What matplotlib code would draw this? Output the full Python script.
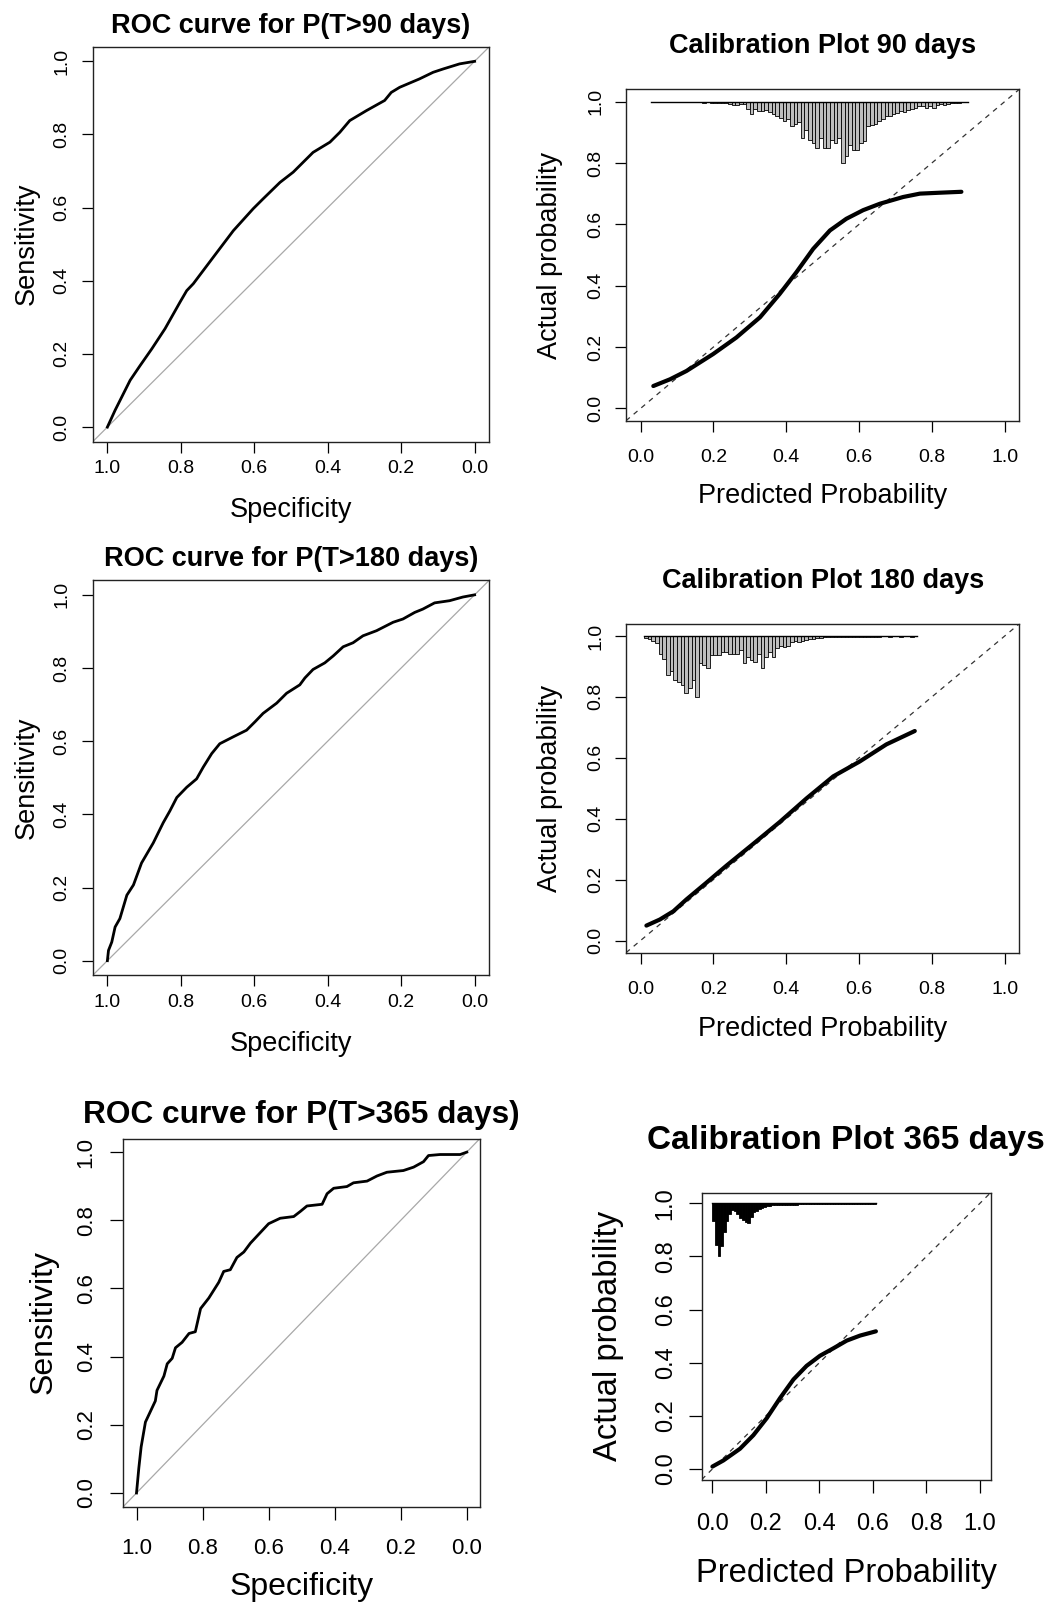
import matplotlib
matplotlib.use('Agg')
import matplotlib.pyplot as plt
import numpy as np

plt.rcParams['font.family'] = ['Liberation Sans', 'DejaVu Sans']

# ---------------- data ----------------
roc90_spec = [1.0, .979, .938, .911, .879, .843, .802, .784, .766, .712, .657, .603, .576, .530,
              .494, .440, .394, .367, .340, .295, .245, .227, .204, .150, .113, .086, .041, 0.0]
roc90_sens = [0.0, .046, .128, .168, .214, .269, .342, .373, .392, .464, .537, .597, .624, .669,
              .697, .751, .779, .806, .838, .865, .893, .915, .929, .952, .970, .979, .993, 1.0]

roc180_spec = [1.0, .997, .988, .979, .966, .947, .929, .907, .875, .848, .830, .811, .784, .757,
               .739, .716, .694, .657, .621, .598, .576, .539, .512, .476, .462, .440, .408, .385,
               .358, .331, .304, .267, .222, .195, .163, .141, .109, .068, .032, 0.0]
roc180_sens = [0.0, .028, .051, .092, .115, .179, .207, .267, .322, .377, .409, .446, .474, .497,
               .529, .566, .593, .612, .630, .653, .676, .704, .731, .754, .773, .796, .814, .833,
               .858, .869, .888, .902, .925, .934, .952, .961, .978, .984, .994, 1.0]

roc365_spec = [1.0, .993, .986, .973, .958, .943, .938, .917, .907, .892, .882, .862, .841, .822,
               .806, .781, .751, .736, .716, .696, .675, .655, .630, .600, .565, .524, .504, .484,
               .438, .423, .403, .363, .343, .302, .272, .242, .192, .161, .131, .116, .081, .020, 0.0]
roc365_sens = [0.0, .073, .135, .208, .239, .270, .301, .343, .379, .395, .426, .442, .468, .473,
               .541, .572, .618, .650, .655, .691, .707, .733, .759, .790, .806, .811, .826, .842,
               .847, .878, .894, .899, .910, .915, .930, .941, .946, .956, .972, .990, .993, .993, 1.0]

cal90_pred = [.035, .081, .126, .199, .263, .328, .382, .428, .474, .520, .565, .611, .657, .721, .767, .822, .881]
cal90_act = [.073, .095, .122, .177, .231, .297, .373, .444, .520, .580, .618, .646, .667, .689, .700, .703, .706]

cal180_pred = [.016, .053, .090, .126, .181, .236, .309, .382, .456, .529, .602, .675, .753]
cal180_act = [.049, .069, .096, .135, .190, .246, .317, .389, .467, .539, .588, .644, .688]

cal365_pred = [0.0, .041, .103, .153, .203, .253, .303, .352, .402, .452, .502, .552, .611]
cal365_act = [.009, .032, .076, .127, .191, .267, .337, .388, .426, .454, .483, .502, .518]

# relative frequency of predicted risk (fraction of the tallest bin), bins of 0.01
hist90_start = 0.03
hist90_freq = [0.005, 0.005, 0.003, 0.005, 0.005, 0.005, 0.003, 0.008, 0.005, 0.008, 0.01, 0.015,
               0.01, 0.012, 0.02, 0.012, 0.018, 0.02, 0.03, 0.02, 0.03, 0.035, 0.055, 0.05,
               .04, .04, .12, .20, .12, .15, .15, .13, .17, .20, .23, .27, .31, .28, .39, .36, .34,
               .60, .47, .63, .68, .76, .60, .76, .76, .63, .68, .60, 1.0, .89, .71, .79, .79, .68,
               .65, .39, .38, .36, .31, .29, .24, .23, .20, .18, .15, .17, .13, .12, .10, .07, .08,
               .11, .07, .10, .06, .04, .05, .04, .03, .03, .02, .01, .01]

hist180_start = 0.01
hist180_freq = [.03, .05, .09, .12, .29, .37, .64, .58, .72, .75, .80, .94, .85, .72, 1.0, .45, .48,
                .52, .31, .31, .31, .27, .27, .30, .30, .30, .23, .45, .34, .40, .42, .29, .53, .34,
                .26, .34, .20, .16, .18, .16, .10, .08, .10, .09, .07, .05, .05, .04, .03, .02, .02,
                .01, .015, .01, .02, .01, .02, .015, .01, .02, .015, .02, .02, .01, .015, .005, .005,
                .01, .005, .005, .01, .005, .005, .01, .005]

hist365_start = 0.0
hist365_freq = [.33, .78, 1.0, .81, .55, .33, .20, .12, .14, .20, .27, .32, .36, .38, .25, .17, .14,
                .11, .09, .07, .06, .05, .04, .04, .04, .035, .03, .03, .03, .03, .025, .025, .02,
                .02, .02, .02, .02, .02, .02, .015, .015, .015, .015, .015, .015, .01, .01, .01, .01,
                .01, .01, .01, .01, .01, .01, .01, .01, .01, .01, .01, .01]

tick_vals = [0.0, 0.2, 0.4, 0.6, 0.8, 1.0]
tick_labels = ['0.0', '0.2', '0.4', '0.6', '0.8', '1.0']

# ---------------- layout helpers ----------------
W, H = 1047, 1605
fig = plt.figure(figsize=(W / 100, H / 100), dpi=100)
PX2PT = 0.72


def box(l, t, r, b):
    return [l / W, 1 - b / H, (r - l) / W, (b - t) / H]


def ftext(x, y, s, **kw):
    fig.text(x / W, 1 - y / H, s, **kw)


def style(ax, reverse_x, tick_fs, ticklen_px, xlab_dist_px, ylab_dist_px):
    lo, hi = -0.04, 1.04
    if reverse_x:
        ax.set_xlim(hi, lo)
    else:
        ax.set_xlim(lo, hi)
    ax.set_ylim(lo, hi)
    ax.set_xticks(tick_vals)
    ax.set_xticklabels(tick_labels)
    ax.set_yticks(tick_vals)
    ax.set_yticklabels(tick_labels)
    tl = ticklen_px * PX2PT
    ax.tick_params(axis='both', direction='out', length=tl, width=0.9, color='black',
                   labelsize=tick_fs)
    ax.tick_params(axis='x', pad=xlab_dist_px * PX2PT - tl)
    ax.tick_params(axis='y', pad=ylab_dist_px * PX2PT - tl)
    for lab in ax.get_xticklabels():
        lab.set_va('baseline')
    for lab in ax.get_yticklabels():
        lab.set_rotation(90)
        lab.set_rotation_mode('anchor')
        lab.set_ha('center')
        lab.set_va('baseline')
    for sp in ax.spines.values():
        sp.set_linewidth(1.0)
        sp.set_color('#222222')


def roc_panel(rect, spec, sens, title, centers, fs):
    ax = fig.add_axes(box(*rect))
    ax.plot([1.04, -0.04], [-0.04, 1.04], color='#a8a8a8', lw=0.9)
    ax.plot(spec, sens, color='black', lw=2.0, solid_joinstyle='round')
    style(ax, True, fs['tick'], fs['tl'], fs['xd'], fs['yd'])
    (tx, ty), (xx, xy), (yx, yy) = centers
    ftext(tx, ty, title, ha='center', va='baseline', fontsize=fs['title'], fontweight='bold')
    ftext(xx, xy, 'Specificity', ha='center', va='baseline', fontsize=fs['lab'])
    ftext(yx, yy, 'Sensitivity', ha='center', va='baseline', fontsize=fs['lab'],
          rotation=90, rotation_mode='anchor')
    return ax


def cal_panel(rect, pred, act, hstart, hfreq, hcolor, title, centers, fs):
    ax = fig.add_axes(box(*rect))
    ax.plot([-0.04, 1.04], [-0.04, 1.04], color='#333333', lw=0.9, ls=(0, (4, 4)))
    n = len(hfreq)
    lefts = hstart + 0.01 * np.arange(n)
    depth = 0.2 * np.asarray(hfreq)
    ax.bar(lefts, -depth, width=0.01, bottom=1.0, align='edge', color=hcolor,
           edgecolor='black', linewidth=0.6)
    ax.plot([lefts[0], lefts[-1] + 0.01], [1.0, 1.0], color='black', lw=1.0)
    ax.plot(pred, act, color='black', lw=3.0, solid_capstyle='round', solid_joinstyle='round')
    style(ax, False, fs['tick'], fs['tl'], fs['xd'], fs['yd'])
    (tx, ty), (xx, xy), (yx, yy) = centers
    ftext(tx, ty, title, ha='center', va='baseline', fontsize=fs['title'], fontweight='bold')
    ftext(xx, xy, 'Predicted Probability', ha='center', va='baseline', fontsize=fs['lab'])
    ftext(yx, yy, 'Actual probability', ha='center', va='baseline', fontsize=fs['lab'],
          rotation=90, rotation_mode='anchor')
    return ax


fs_top = dict(tick=14, tl=11, title=19.5, lab=19.5, xd=31.5, yd=26)
fs_cal = dict(tick=14, tl=11, title=19.5, lab=19.5, xd=41, yd=26)

roc_panel((92.7, 46.7, 489.3, 441.7), roc90_spec, roc90_sens, 'ROC curve for P(T>90 days)',
          ((291, 33.3), (291, 517), (33.3, 244.2)), fs_top)
cal_panel((626, 89.3, 1019.3, 420.7), cal90_pred, cal90_act, hist90_start, hist90_freq, '#bebebe',
          'Calibration Plot 90 days', ((822.7, 53.3), (822.7, 503.3), (556.7, 255)), fs_cal)

roc_panel((92.7, 580.2, 489.3, 975.3), roc180_spec, roc180_sens, 'ROC curve for P(T>180 days)',
          ((291, 565.6), (291, 1050.6), (33.3, 777.8)), fs_top)
cal_panel((626, 623.8, 1019.3, 952.7), cal180_pred, cal180_act, hist180_start, hist180_freq,
          '#bebebe', 'Calibration Plot 180 days', ((822.7, 587.6), (822.7, 1036), (556.7, 788.3)),
          fs_cal)

fs_b1 = dict(tick=16, tl=13.3, title=22.8, lab=23, xd=47.8, yd=31.6)
fs_b2 = dict(tick=17, tl=13.3, title=24, lab=23.6, xd=50, yd=30)
roc_panel((123.3, 1138.5, 480, 1506.6), roc365_spec, roc365_sens, 'ROC curve for P(T>365 days)',
          ((301.7, 1122.6), (301.7, 1595), (51.7, 1322.5)), fs_b1)
cal_panel((701.7, 1192.6, 990.7, 1479.6), cal365_pred, cal365_act, hist365_start, hist365_freq,
          'black', 'Calibration Plot 365 days', ((846, 1149.4), (846, 1582), (616.7, 1336.1)), fs_b2)

fig.savefig('out.png', dpi=100, facecolor='white')
